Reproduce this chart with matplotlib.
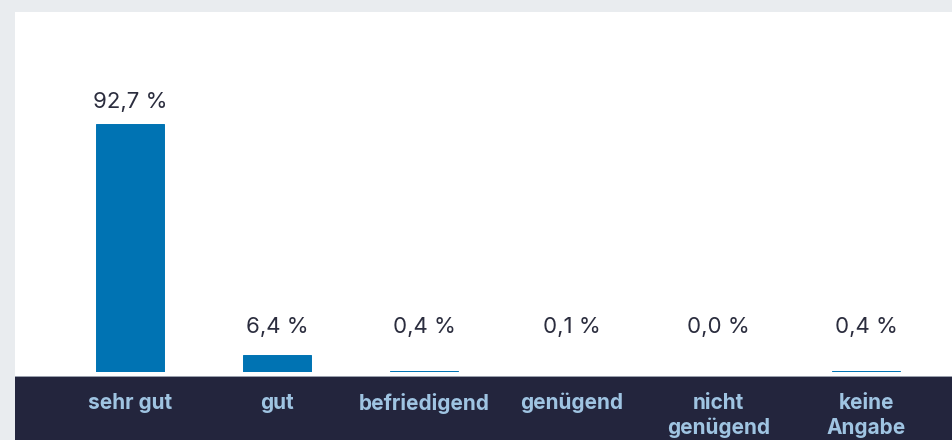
import matplotlib.pyplot as plt
from matplotlib.patches import Rectangle

# Daten
kategorien = ['sehr gut', 'gut', 'befriedigend', 'genügend', 'nicht\ngenügend', 'keine\nAngabe']
anteile = [92.7, 6.4, 0.4, 0.1, 0.0, 0.4]
beschriftung = ['92,7 %', '6,4 %', '0,4 %', '0,1 %', '0,0 %', '0,4 %']

W, H = 953, 440
fig = plt.figure(figsize=(W / 100, H / 100), dpi=100, facecolor='#e9ecef')

# weisses Panel und dunkles Band unten
fig.add_artist(Rectangle((15 / W, 0), 1, (H - 12) / H, transform=fig.transFigure,
                         facecolor='white', edgecolor='none', zorder=0))
fig.add_artist(Rectangle((15 / W, 0), 1, 63 / H, transform=fig.transFigure,
                         facecolor='#23253d', edgecolor='none', zorder=1))
fig.add_artist(Rectangle((15 / W, 63 / H), 1, 1.2 / H, transform=fig.transFigure,
                         facecolor='#9aa0ad', edgecolor='none', zorder=1))

# Achse: Basislinie bei y=372px
ax = fig.add_axes([15 / W, 68 / H, (W - 15) / W, 360 / H])
ax.set_zorder(2)
ax.set_facecolor('none')
x = list(range(len(kategorien)))
ax.bar(x, anteile, width=0.462, color='#0073b3', edgecolor='#0073b3',
       linewidth=[0.7 if v > 0 else 0 for v in anteile], zorder=3)

ax.set_xlim(-0.781, 5.591)
ax.set_ylim(0, 134.6)

for xi, v, t in zip(x, anteile, beschriftung):
    ax.annotate(t, (xi, max(v, 8.6)), xytext=(0, 22), textcoords='offset pixels',
                ha='center', va='center', fontsize=16, family='Inter', color='#2b2d3e')

ax.set_xticks(x)
ax.set_xticklabels(kategorien, fontsize=15, family='Inter', fontweight='bold',
                   color='#9fc4e2', linespacing=1.3)
ax.tick_params(axis='x', length=0, pad=15)
ax.set_yticks([])
for s in ax.spines.values():
    s.set_visible(False)

fig.savefig('out.png', dpi=100, facecolor=fig.get_facecolor())
